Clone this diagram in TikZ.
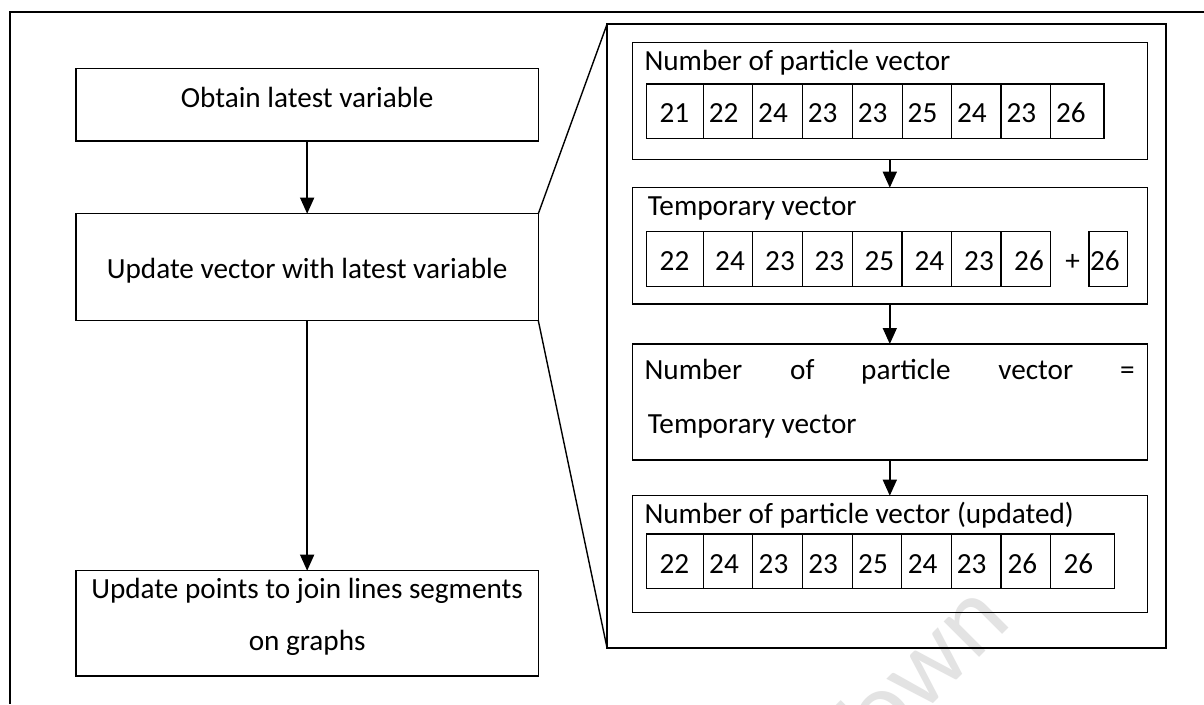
\documentclass[tikz,border=0pt]{standalone}
\usepackage{fontspec}
\setmainfont{Carlito}
\usetikzlibrary{arrows.meta}
\begin{document}
\begin{tikzpicture}[x=1pt,y=-1pt,
  txt/.style={font=\fontsize{29.2}{35}\selectfont, inner sep=0pt, outer sep=0pt},
  box/.style={draw, line width=1.4pt, inner sep=0pt, outer sep=0pt},
  bigbox/.style={draw, line width=2pt, inner sep=0pt, outer sep=0pt},
  cell/.style={draw, line width=1.3pt},
  lbl/.style={txt, anchor=base west},
  ctr/.style={txt, anchor=base},
  arr/.style={line width=1.4pt, -{Triangle[width=14pt,length=16pt]}},
  zline/.style={line width=1.4pt},
  frame/.style={line width=2pt}]
\useasboundingbox (0,0) rectangle (1204,704);
\fill[white] (0,0) rectangle (1204,704);

% faint watermark (partly outside the picture, as in the reference)
\node[font=\fontsize{105}{105}\selectfont, text=black!11, rotate=45, inner sep=0pt] (wm) at (910,680) {Town};

% outer frame (right and bottom sides lie outside the picture)
\coordinate (fTL) at (10,11.7);
\coordinate (fTR) at (1204,11.7);
\coordinate (fBL) at (10,704);
\draw[frame] (fTR) -- (fTL) -- (fBL);

% left column
\node[box, minimum width=462.3pt, minimum height=72.4pt] (L1) at (307.15,104.9) {};
\node[box, minimum width=462.3pt, minimum height=106.9pt] (L2) at (307.15,267.15) {};
\node[box, minimum width=462.3pt, minimum height=105.3pt] (L3) at (307.15,623.35) {};
\node[ctr] (t1) at (307.15,107.5) {Obtain latest variable};
\node[ctr] (t2) at (307.15,278.5) {Update vector with latest variable};
\node[ctr] (t3a) at (307.15,598) {Update points to join lines segments};
\node[ctr] (t3b) at (307.15,650) {on graphs};
\draw[arr] (L1.south) -- (L2.north);
\draw[arr] (L2.south) -- (L3.north);

% right detail box
\node[bigbox, minimum width=558.7pt, minimum height=623.4pt] (R) at (886.35,336) {};
\draw[zline] (L2.north east) -- (R.north west);
\draw[zline] (L2.south east) -- (R.south west);

\node[box, minimum width=515pt, minimum height=116.6pt] (R1) at (889.8,101) {};
\node[box, minimum width=515pt, minimum height=116.3pt] (R2) at (889.8,245.85) {};
\node[box, minimum width=515pt, minimum height=116pt] (R3) at (889.8,402) {};
\node[box, minimum width=515pt, minimum height=117pt] (R4) at (889.8,554.2) {};
\draw[arr] (R1.south) -- (R2.north);
\draw[arr] (R2.south) -- (R3.north);
\draw[arr] (R3.south) -- (R4.north);

% R1
\node[lbl] (h1) at (644.5,70.7) {Number of particle vector};
\foreach \xa/\xb/\c/\n [count=\i] in {646.5/703.3/674.3/21, 703.3/752.7/723.6/22, 752.7/802.3/773/24, 802.3/852.3/822.6/23, 852.3/902.2/872.6/23, 902.2/951.5/922.5/25, 951.5/1001/971.8/24, 1001/1050.5/1021.3/23, 1050.5/1104/1070.8/26}{
  \draw[cell] (\xa,84) rectangle (\xb,138.3);
  \node[ctr] (a\i) at (\c,122.6) {\n};
}

% R2
\node[lbl] (h2) at (647.8,215) {Temporary vector};
\foreach \xa/\xb/\c/\n [count=\i] in {646.3/703.3/674.5/22, 703.3/752.7/730/24, 752.7/802.3/780/23, 802.3/852.3/829.3/23, 852.3/902/879.3/25, 902/951.7/929.3/24, 951.7/1001/979/23, 1001/1050.7/1029/26}{
  \draw[cell] (\xa,231.7) rectangle (\xb,286.7);
  \node[ctr] (b\i) at (\c,270.6) {\n};
}
\node[ctr] (plus) at (1072.7,270.6) {+};
\node[draw, line width=1.3pt, inner sep=0pt, minimum width=38.3pt, minimum height=55pt] (S) at (1108.15,259.2) {};
\node[ctr] (s26) at (1104.9,270.6) {26};

% R3 (justified first line)
\node[lbl] (w1) at (644.6,379) {Number};
\node[lbl] (w2) at (790.2,379) {of};
\node[lbl] (w3) at (861.2,379) {particle};
\node[lbl] (w4) at (998.4,379) {vector};
\node[lbl] (w5) at (1120,379) {=};
\node[lbl] (w6) at (647.8,433) {Temporary vector};

% R4
\node[lbl] (h4) at (644.5,523.5) {Number of particle vector (updated)};
\foreach \xa/\xb/\c/\n [count=\i] in {646.7/703.3/674.3/22, 703.3/752.7/724/24, 752.7/802.3/773.5/23, 802.3/852.3/823.2/23, 852.3/901.7/873/25, 901.7/951.7/922.7/24, 951.7/1001/971.7/23, 1001/1050.7/1022.3/26, 1050.7/1114.3/1078.3/26}{
  \draw[cell] (\xa,534) rectangle (\xb,588.7);
  \node[ctr] (d\i) at (\c,573.3) {\n};
}
\end{tikzpicture}
\end{document}
